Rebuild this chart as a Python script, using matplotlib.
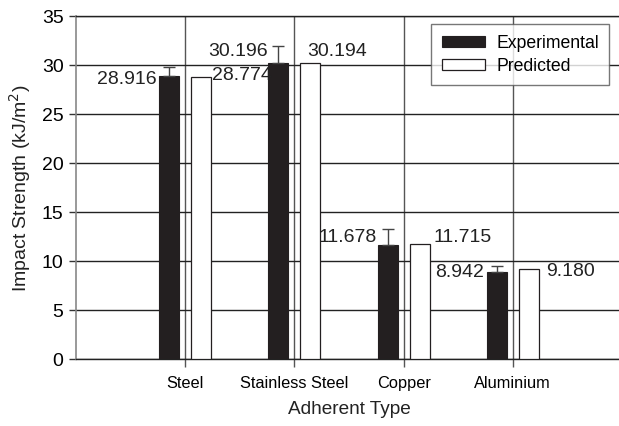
import matplotlib
matplotlib.use("Agg")
import matplotlib.pyplot as plt
import numpy as np

plt.rcParams['font.family'] = ['Liberation Sans', 'DejaVu Sans']

categories = ["Steel", "Stainless Steel", "Copper", "Aluminium"]
experimental = [28.916, 30.196, 11.678, 8.942]
predicted = [28.774, 30.194, 11.715, 9.180]
exp_error = [0.9, 1.7, 1.6, 0.6]
exp_labels = ["28.916", "30.196", "11.678", "8.942"]
pred_labels = ["28.774", "30.194", "11.715", "9.180"]

# label placement (annotation positions)
exp_label_y = [28.5, 31.4, 12.4, 8.8]
pred_label_y = [28.9, 31.4, 12.4, 8.95]
exp_label_dx = [-3, -1, -1, -3]
pred_label_dx = [1, -13, 4, 7]

W, H = 619, 426
fig = plt.figure(figsize=(W / 100, H / 100), dpi=100)
ax = fig.add_axes([76 / W, 1 - 359.3 / H, (622 - 76) / W, (359.3 - 16) / H])

x = np.arange(1, len(categories) + 1)
off = 0.147
bw = 0.183
dark = '#231f20'

ax.bar(x - off, experimental, bw, color=dark, edgecolor=dark, linewidth=0.8,
       label='Experimental', zorder=3)
ax.bar(x + off, predicted, bw, color='white', edgecolor=dark, linewidth=0.9,
       label='Predicted', zorder=3)
ax.errorbar(x - off, experimental, yerr=[np.zeros(len(x)), exp_error], fmt='none',
            ecolor='#444444', elinewidth=1.0, capsize=4.5, capthick=1.0, zorder=4)

for i in range(len(x)):
    ax.annotate(exp_labels[i], xy=(x[i] - off - bw / 2, exp_label_y[i]),
                xytext=(exp_label_dx[i], 0), textcoords='offset pixels',
                ha='right', va='center', fontsize=14, color='#222222')
    ax.annotate(pred_labels[i], xy=(x[i] + off + bw / 2, pred_label_y[i]),
                xytext=(pred_label_dx[i], 0), textcoords='offset pixels',
                ha='left', va='center', fontsize=14, color='#222222')

ax.set_xlim(0, 5)
ax.set_ylim(0, 35)
ax.set_yticks(np.arange(0, 36, 5))
ax.set_xticks(x)
ax.set_xticklabels(categories, fontsize=11.8)
ax.tick_params(axis='y', labelsize=14, length=5, width=1, color='#333333', pad=4)
ax.tick_params(axis='x', length=6, width=1, color='#555555', pad=6)

ax.set_axisbelow(True)
ax.yaxis.grid(True, color='#222222', linewidth=1.0)
ax.xaxis.grid(True, color='#555555', linewidth=1.0)

ax.spines['left'].set_color('#888888')
ax.spines['left'].set_linewidth(1.2)
ax.spines['bottom'].set_color('#222222')
ax.spines['bottom'].set_linewidth(1.0)
ax.spines['top'].set_color('#222222')
ax.spines['top'].set_linewidth(1.0)
ax.spines['right'].set_visible(False)

fig.text(20 / W, 1 - 188 / H, 'Impact Strength (kJ/m$^2$)', rotation=90,
         ha='center', va='center', fontsize=14, color='#222222')
fig.text(349 / W, 1 - 410 / H, 'Adherent Type', ha='center', va='center',
         fontsize=13.7, color='#222222')

leg = ax.legend(loc='upper left', bbox_to_anchor=((431 - 76) / 546, 1 - (24 - 16) / 343.3),
                fontsize=12.7, frameon=True, fancybox=False, edgecolor='#555555',
                handlelength=2.45, handleheight=0.6, borderpad=0.6, labelspacing=0.35,
                handletextpad=0.65, borderaxespad=0)
leg.get_frame().set_linewidth(1.0)

fig.savefig('out.png', dpi=100)
